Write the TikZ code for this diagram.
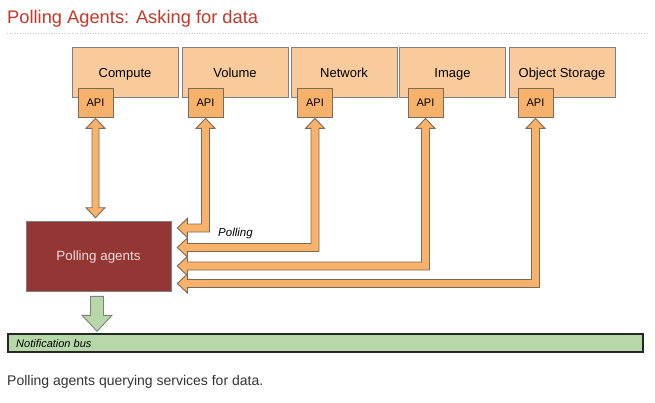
\documentclass[tikz,border=0pt]{standalone}
\usepackage{fontspec}
\setmainfont{Liberation Sans}
\usetikzlibrary{calc}
\definecolor{titlered}{HTML}{BF3A2B}
\definecolor{svcfill}{HTML}{F9CB9C}
\definecolor{apifill}{HTML}{F6B26B}
\definecolor{arrfill}{HTML}{F9B26A}
\definecolor{arrline}{HTML}{7A6A5A}
\definecolor{boxline}{HTML}{7F7F7F}
\definecolor{pafill}{HTML}{943634}
\definecolor{patext}{HTML}{F2DCDB}
\definecolor{greenfill}{HTML}{B6D7A8}
\definecolor{captext}{HTML}{333333}
\tikzset{
  svc/.style={draw=boxline, line width=0.8pt, fill=svcfill, minimum width=106pt, minimum height=50pt, inner sep=0pt, text height=9.4pt, text depth=0pt, font=\fontsize{13}{15}\selectfont},
  api/.style={draw=arrline, line width=0.8pt, fill=apifill, minimum width=35pt, minimum height=29pt, inner sep=0pt, text height=8pt, text depth=0pt, font=\fontsize{11}{13}\selectfont},
  blockarrow/.style={draw=arrline, line width=0.9pt, fill=arrfill, line join=miter},
  greenarrow/.style={draw=boxline, line width=0.9pt, fill=greenfill, line join=miter},
}
\newcommand{\bentarrow}[2]{%
  \draw[blockarrow] let \p1=(#1.south), \p2=(pa.east), \p3=(0,#2) in
    (\x1,\y1-1pt) -- (\x1+9.5pt,\y1-11pt) -- (\x1+4pt,\y1-11pt) -- (\x1+4pt,\y3-4pt)
    -- (\x2+16pt,\y3-4pt) -- (\x2+16pt,\y3-9.5pt) -- (\x2+6pt,\y3) -- (\x2+16pt,\y3+9.5pt)
    -- (\x2+16pt,\y3+4pt) -- (\x1-4pt,\y3+4pt) -- (\x1-4pt,\y1-11pt) -- (\x1-9.5pt,\y1-11pt) -- cycle;}
\begin{document}
\begin{tikzpicture}[x=1pt,y=-1pt]
\useasboundingbox[fill=white] (0,0) rectangle (655,402);
% title
\node[anchor=base west, inner sep=0pt, text=titlered, font=\fontsize{18.3}{20}\selectfont] (title) at (7,23) {Polling Agents: Asking for data};
\coordinate (ruleL) at (7,33);
\coordinate (ruleR) at (648,33);
\draw[gray!45, line width=0.6pt, dotted] (ruleL) -- (ruleR);
% services
\node[svc] (compute) at (125,72.5) {Compute};
\node[svc] (volume) at (235,72.5) {Volume};
\node[svc] (network) at (344,72.5) {Network};
\node[svc] (image) at (452.5,72.5) {Image};
\node[svc] (objstore) at (562,72.5) {Object Storage};
% API boxes
\node[api] (capi) at (95.5,102.5) {API};
\node[api] (vapi) at (205.5,102.5) {API};
\node[api] (napi) at (315,102.5) {API};
\node[api] (iapi) at (425.5,102.5) {API};
\node[api] (oapi) at (535.5,102.5) {API};
% polling agents
\node[draw=boxline, line width=0.6pt, fill=pafill, minimum width=145pt, minimum height=70pt, inner sep=0pt, text height=9.6pt, text depth=0pt, text=patext, font=\fontsize{13.4}{15}\selectfont] (pa) at (98.5,256) {Polling agents};
% compute double arrow
\draw[blockarrow] let \p1=(capi.south), \p2=(pa.north) in
  (\x1,\y1-1pt) -- (\x1+9.5pt,\y1-11pt) -- (\x1+3.5pt,\y1-11pt) -- (\x1+3.5pt,\y2+13pt)
  -- (\x1+9.5pt,\y2+13pt) -- (\x1,\y2+3pt) -- (\x1-9.5pt,\y2+13pt) -- (\x1-3.5pt,\y2+13pt)
  -- (\x1-3.5pt,\y1-11pt) -- (\x1-9.5pt,\y1-11pt) -- cycle;
% bent arrows
\bentarrow{vapi}{228}
\bentarrow{napi}{247.5}
\bentarrow{iapi}{266}
\bentarrow{oapi}{283.5}
\node[anchor=west, inner sep=0pt, font=\itshape\fontsize{11.5}{13}\selectfont] (polling) at (218,233.5) {Polling};
% notification bus
\node[draw=black!85, line width=1.4pt, fill=greenfill, minimum width=635pt, minimum height=18pt, inner sep=0pt] (bus) at (325.5,343) {};
\node[anchor=west, inner sep=0pt, font=\itshape\fontsize{11}{13}\selectfont] (buslabel) at (16,344) {Notification bus};
% green arrow
\draw[greenarrow] let \p1=(pa.south), \p2=(bus.north) in
  (\x1-8pt,\y1-5pt) -- (\x1+5pt,\y1-5pt) -- (\x1+5pt,\y2+18pt) -- (\x1+13.5pt,\y2+18pt)
  -- (\x1-1.5pt,\y2+2pt) -- (\x1-16.5pt,\y2+18pt) -- (\x1-8pt,\y2+18pt) -- cycle;
% caption
\node[anchor=base west, inner sep=0pt, text=captext, font=\fontsize{14}{16}\selectfont] (caption) at (7,385) {Polling agents querying services for data.};
\end{tikzpicture}
\end{document}
